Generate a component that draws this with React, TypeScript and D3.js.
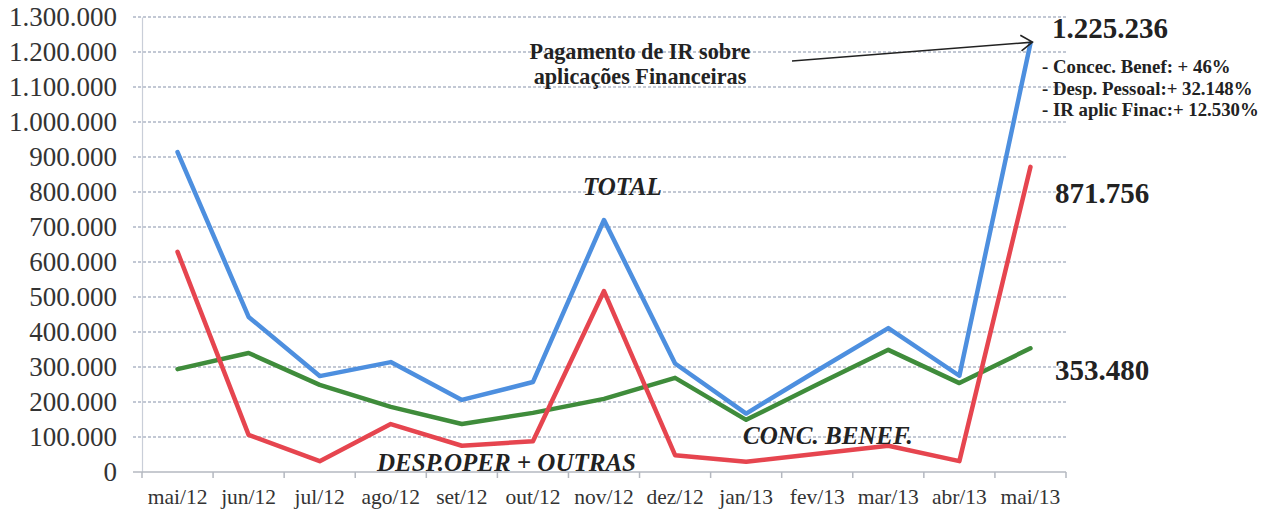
import React, { useEffect, useRef } from "react";
import * as d3 from "d3";

const months = [
  "mai/12", "jun/12", "jul/12", "ago/12", "set/12", "out/12", "nov/12",
  "dez/12", "jan/13", "fev/13", "mar/13", "abr/13", "mai/13",
];

const total = [
  914000, 443000, 274000, 314000, 206000, 257000, 720000,
  310000, 167000, 290000, 411000, 275000, 1225236,
];

const despOper = [
  629000, 106000, 31000, 137000, 75000, 88000, 517000,
  48000, 29000, 52000, 75000, 31000, 871756,
];

const concBenef = [
  294000, 340000, 249000, 186000, 137000, 169000, 209000,
  269000, 149000, 250000, 349000, 254000, 353480,
];

const yTicks = d3.range(0, 1300001, 100000);

const series = [
  { name: "TOTAL", values: total, color: "#4d8fdf" },
  { name: "CONC. BENEF.", values: concBenef, color: "#3f8c3b" },
  { name: "DESP.OPER + OUTRAS", values: despOper, color: "#e6454f" },
];

const notes = ["- Concec. Benef: + 46%", "- Desp. Pessoal:+ 32.148%", "- IR aplic Finac:+ 12.530%"];

const ptBR = d3.formatLocale({
  decimal: ",",
  thousands: ".",
  grouping: [3],
  currency: ["R$", ""],
});
const fmt = ptBR.format(",d");

const serif = "'Liberation Serif', 'Times New Roman', Times, serif";

const App = () => {
  const svgRef = useRef<SVGSVGElement>(null);

  useEffect(() => {
    const width = 1284;
    const height = 513;
    const margin = { top: 17, right: 218, bottom: 41, left: 142 };

    const svg = d3.select(svgRef.current);
    svg.selectAll("*").remove();
    svg
      .attr("width", width)
      .attr("height", height)
      .style("background", "#fff")
      .style("font-family", serif);

    const x = d3
      .scaleBand()
      .domain(months)
      .range([margin.left, width - margin.right]);

    const y = d3
      .scaleLinear()
      .domain([0, 1300000])
      .range([height - margin.bottom, margin.top]);

    // gridlines
    svg
      .append("g")
      .selectAll("line")
      .data(yTicks.slice(1))
      .join("line")
      .attr("x1", margin.left - 9)
      .attr("x2", width - margin.right)
      .attr("y1", (d) => y(d))
      .attr("y2", (d) => y(d))
      .attr("stroke", "#aeb7c6")
      .attr("stroke-width", 1.3)
      .attr("stroke-dasharray", "3,2");

    // y axis
    const yAxis = svg
      .append("g")
      .attr("transform", `translate(${margin.left},0)`)
      .call(
        d3
          .axisLeft(y)
          .tickValues(yTicks)
          .tickSize(0)
          .tickPadding(25)
          .tickFormat((d) => fmt(d as number))
      );
    yAxis.attr("font-family", null);
    yAxis.select(".domain").attr("stroke", "#c9ced8").attr("stroke-width", 1.2);
    yAxis
      .selectAll("text")
      .style("font-family", serif)
      .attr("font-size", 27)
      .attr("fill", "#333");

    // x axis
    const xAxis = svg
      .append("g")
      .attr("transform", `translate(0,${y(0)})`)
      .call(d3.axisBottom(x).tickSize(0).tickPadding(17));
    xAxis.attr("font-family", null);
    xAxis
      .select(".domain")
      .attr("d", `M${margin.left - 9},0H${width - margin.right}`)
      .attr("stroke", "#b4b8c0")
      .attr("stroke-width", 1.5);
    xAxis
      .selectAll("text")
      .style("font-family", serif)
      .attr("font-size", 21.5)
      .attr("fill", "#333");

    const bounds = months.map((m) => x(m) as number).concat([width - margin.right]);
    xAxis
      .append("g")
      .selectAll("line")
      .data(bounds)
      .join("line")
      .attr("x1", (d) => d)
      .attr("x2", (d) => d)
      .attr("y1", 0)
      .attr("y2", 6)
      .attr("stroke", "#b4b8c0")
      .attr("stroke-width", 1.5);

    // lines
    const line = d3
      .line<number>()
      .x((_, i) => (x(months[i]) as number) + x.bandwidth() / 2)
      .y((d) => y(d));

    svg
      .append("g")
      .selectAll("path")
      .data(series)
      .join("path")
      .attr("d", (s) => line(s.values))
      .attr("fill", "none")
      .attr("stroke", (s) => s.color)
      .attr("stroke-width", 4.5)
      .attr("stroke-linejoin", "round")
      .attr("stroke-linecap", "round");

    // series labels
    const labels = svg
      .append("g")
      .style("font-family", serif)
      .attr("font-weight", "bold")
      .attr("font-style", "italic")
      .attr("font-size", 25)
      .attr("fill", "#222");
    labels.append("text").attr("x", 583).attr("y", 195).text("TOTAL");
    labels.append("text").attr("x", 377).attr("y", 471).text("DESP.OPER + OUTRAS");
    labels.append("text").attr("x", 743).attr("y", 444).text("CONC. BENEF.");

    // annotations
    const ann = svg
      .append("g")
      .style("font-family", serif)
      .attr("font-weight", "bold")
      .attr("fill", "#222");
    const last = months.length - 1;
    const endX = (x(months[last]) as number) + x.bandwidth() / 2;

    ann.append("text").attr("x", 1052).attr("y", 38).attr("font-size", 29).text(fmt(total[last]));
    ann.append("text").attr("x", 1055).attr("y", 203).attr("font-size", 29).text(fmt(despOper[last]));
    ann.append("text").attr("x", 1055).attr("y", 380).attr("font-size", 29).text(fmt(concBenef[last]));

    ann
      .selectAll(".note")
      .data(notes)
      .join("text")
      .attr("class", "note")
      .attr("x", 1042)
      .attr("y", (_, i) => 73 + i * 21.5)
      .attr("font-size", 18.8)
      .text((d) => d);

    const callout = ann.append("text").attr("font-size", 22.2).attr("text-anchor", "middle");
    callout.append("tspan").attr("x", 640).attr("y", 59).text("Pagamento de IR sobre");
    callout.append("tspan").attr("x", 640).attr("y", 84).text("aplicações Financeiras");

    // arrow
    const tipX = endX + 2;
    const tipY = y(total[last]) - 1;
    svg
      .append("line")
      .attr("x1", 792)
      .attr("y1", 61)
      .attr("x2", tipX)
      .attr("y2", tipY)
      .attr("stroke", "#222")
      .attr("stroke-width", 1.6);
    const ang = Math.atan2(tipY - 61, tipX - 792);
    const head = [ang - 0.6, ang + 0.6].map((a) => [tipX - 14 * Math.cos(a), tipY - 14 * Math.sin(a)]);
    svg
      .append("path")
      .attr("d", `M${head[0][0]},${head[0][1]}L${tipX},${tipY}L${head[1][0]},${head[1][1]}`)
      .attr("fill", "none")
      .attr("stroke", "#222")
      .attr("stroke-width", 1.6);
  }, []);

  return (
    <div>
      <svg ref={svgRef} style={{ position: "absolute", left: 0, top: 0 }} />
    </div>
  );
};

export default App;
